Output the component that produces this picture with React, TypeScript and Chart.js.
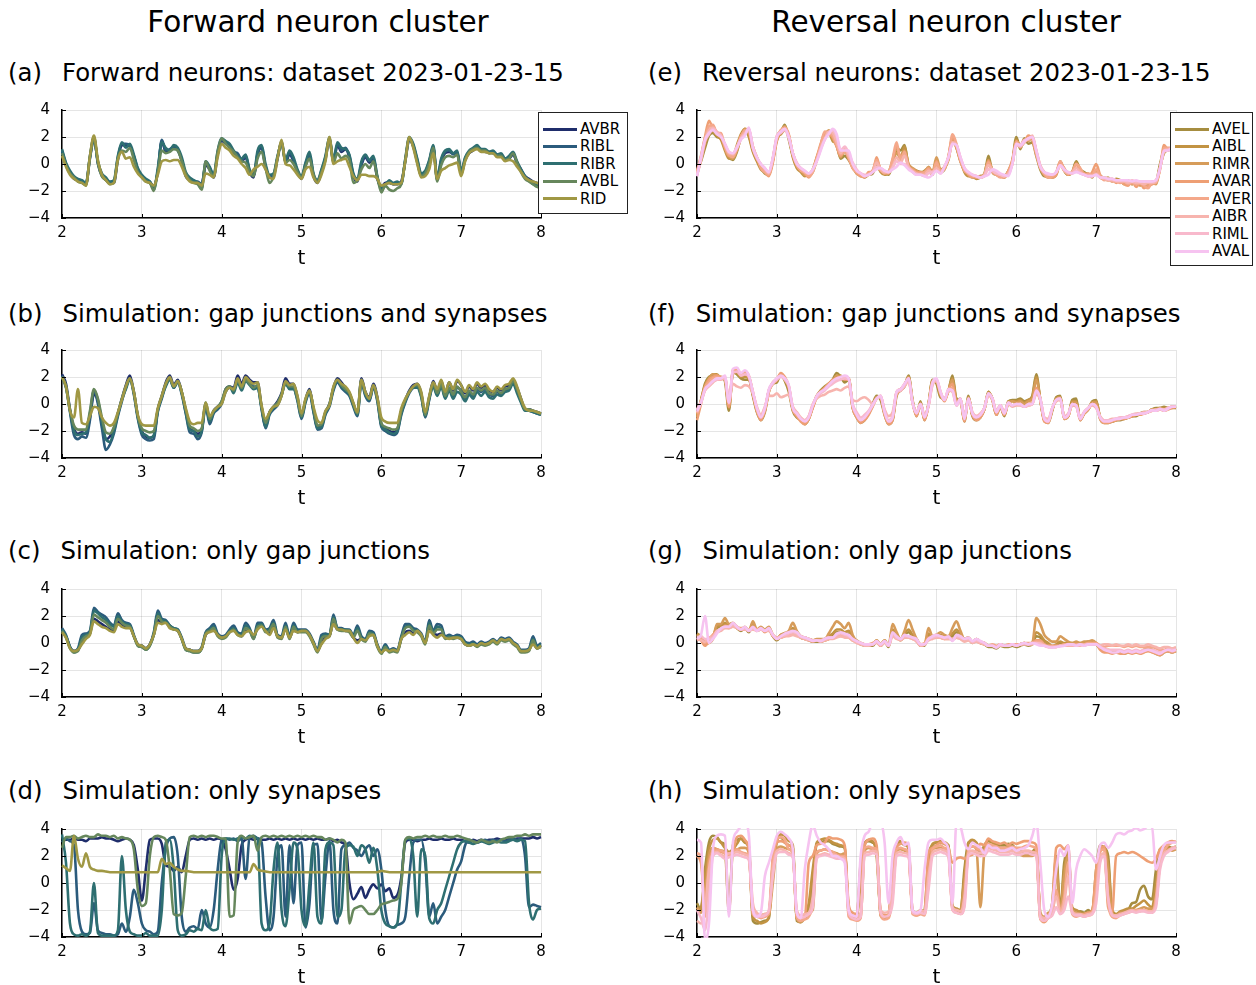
import React, { useEffect, useRef } from "react";
import { Chart, registerables } from "chart.js";
Chart.register(...registerables);

const FONT = "'DejaVu Sans', 'Liberation Sans', sans-serif";

// sample times 2.00, 2.05, ... 8.00
const T_START = 2;
const T_STEP = 0.05;
const X_TICKS = [2, 3, 4, 5, 6, 7, 8];
const Y_TICKS = [-4, -2, 0, 2, 4];

const FWD_NAMES = ["AVBR", "RIBL", "RIBR", "AVBL", "RID"];
const FWD_COLORS = ["#1f2d6b", "#2b5b7c", "#2e6f71", "#66875c", "#a09844"];
const REV_NAMES = ["AVEL", "AIBL", "RIMR", "AVAR", "AVER", "AIBR", "RIML", "AVAL"];
const REV_COLORS = ["#a68d40", "#c29343", "#d69c5a", "#ee9f74", "#f4a88a", "#f7b4ae", "#f8b9cc", "#f6c3f0"];

// ---------- (a) Forward neurons: dataset ----------
const A_AVBR = [
  0.9, -0.1, -0.7, -1.1, -1.2, -1.4, -1.5, 0.4, 1.9, 0.1, -0.8, -1.2, -1.4, -1.4, 0.3, 1.4, 1.4, 1.3, 0.6, -0.4,
  -0.9, -1.2, -1.4, -1.6, -0.6, 1.7, 0.9, 1.0, 1.2, 1.1, 0.2, -0.9, -1.2, -1.3, -1.4, -1.5, -0.1, -0.4, -1.0, 0.7,
  1.7, 1.5, 1.3, 0.8, 0.7, 0.2, 0.5, -0.6, -1.0, 0.7, 1.2, -0.3, -1.0, -0.9, 0.4, 1.6, 0.1, 0.7, 0.2, -0.6,
  -1.1, -0.1, 0.6, -0.9, -1.4, -0.6, 0.4, 1.8, 0.1, 1.4, 0.9, 1.1, 0.5, -0.9, -1.3, -0.1, 0.5, 0.1, 0.4, -1.1,
  -1.7, -1.4, -1.4, -1.5, -1.5, -1.3, 0.2, 1.8, 1.3, 0.2, -0.9, -0.7, 0.1, 1.2, -1.1, 0.2, 0.8, 0.9, 0.8, 0.8,
  -0.7, 0.3, 0.8, 1.0, 1.2, 1.1, 0.9, 0.9, 0.8, 0.7, 0.6, 0.4, 0.4, 0.7, 0.1, -0.4, -0.9, -1.1, -1.3, -1.4, -1.6,
];
const A_RIBL = [
  1.0, 0.0, -0.6, -1.0, -1.2, -1.3, -1.5, 0.6, 2.0, 0.0, -0.9, -1.1, -1.4, -1.3, 0.5, 1.5, 1.5, 1.4, 0.5, -0.5,
  -0.9, -1.2, -1.3, -1.7, -0.5, 1.8, 1.0, 1.1, 1.3, 1.0, 0.3, -0.8, -1.1, -1.3, -1.3, -1.5, 0.0, -0.3, -0.9, 0.8,
  1.8, 1.6, 1.4, 0.9, 0.8, 0.3, 0.6, -0.5, -0.9, 0.8, 1.3, -0.2, -0.9, -0.8, 0.5, 1.7, 0.2, 0.8, 0.3, -0.5,
  -1.0, 0.0, 0.7, -0.8, -1.3, -0.5, 0.5, 1.9, 0.2, 1.5, 1.0, 1.2, 0.6, -0.8, -1.2, 0.0, 0.6, 0.2, 0.5, -1.0,
  -1.8, -1.5, -1.3, -1.5, -1.4, -1.4, 0.3, 1.9, 1.4, 0.3, -0.8, -0.6, 0.2, 1.3, -1.2, 0.3, 0.9, 1.0, 0.7, 0.9,
  -0.6, 0.4, 0.9, 1.1, 1.3, 1.0, 1.0, 0.8, 0.9, 0.6, 0.7, 0.3, 0.5, 0.8, 0.0, -0.5, -1.0, -1.2, -1.4, -1.5, -1.7,
];
const A_RIBR = [
  1.1, 0.1, -0.5, -0.9, -1.1, -1.2, -1.4, 0.5, 1.8, 0.2, -0.7, -1.0, -1.3, -1.2, 0.6, 1.6, 1.2, 1.5, 0.7, -0.3,
  -0.8, -1.1, -1.3, -1.9, -0.3, 1.6, 1.2, 1.0, 1.4, 1.2, 0.5, -0.6, -1.0, -1.2, -1.4, -1.8, 0.2, -0.2, -0.8, 1.0,
  1.9, 1.7, 1.5, 1.0, 0.6, 0.4, 0.7, -0.4, -0.8, 1.0, 1.4, 0.0, -0.8, -0.7, 0.6, 1.5, 0.3, 1.0, 0.5, -0.4,
  -0.9, 0.1, 0.9, -0.7, -1.2, -0.4, 0.6, 2.0, 0.3, 1.6, 1.2, 1.1, 0.7, -0.7, -1.1, 0.2, 0.7, 0.3, 0.6, -0.9,
  -1.9, -1.6, -1.2, -1.4, -1.3, -1.5, 0.4, 2.0, 1.5, 0.4, -0.7, -0.5, 0.3, 1.4, -1.0, 0.4, 1.0, 1.1, 0.8, 1.0,
  -0.5, 0.5, 1.0, 1.2, 1.4, 1.1, 1.1, 0.9, 1.0, 0.7, 0.8, 0.4, 0.6, 0.9, 0.2, -0.4, -0.9, -1.2, -1.5, -1.6, -1.8,
];
const A_AVBL = [
  0.8, -0.1, -0.7, -1.0, -1.3, -1.4, -1.6, 0.5, 2.0, 0.1, -0.9, -1.2, -1.5, -1.4, 0.4, 1.0, 0.9, 1.2, 0.3, -0.6,
  -1.0, -1.3, -1.4, -2.0, -0.6, 1.0, 0.8, 0.9, 1.1, 1.0, 0.2, -0.7, -1.2, -1.4, -1.5, -1.9, 0.2, -0.5, -0.9, 0.9,
  1.9, 1.5, 1.2, 0.9, 0.5, 0.2, 0.1, -0.6, -0.9, 0.4, 0.9, -0.3, -1.4, -0.9, 0.5, 1.6, 0.1, 0.3, 0.0, -0.6,
  -1.0, -0.2, 0.4, -0.8, -1.3, -0.6, 0.3, 1.9, 0.1, 0.8, 0.4, 0.6, 0.3, -1.4, -1.2, -0.4, 0.0, -0.3, 0.2, -1.0,
  -2.1, -1.6, -1.9, -2.0, -1.8, -1.5, 0.2, 1.9, 1.3, 0.1, -0.9, -0.7, 0.0, 1.2, -1.3, -0.1, 0.5, 0.6, 0.5, 0.7,
  -0.8, 0.3, 0.9, 1.1, 1.2, 1.0, 1.0, 0.8, 0.8, 0.6, 0.6, 0.3, 0.4, 0.8, 0.1, -0.6, -1.1, -1.3, -1.5, -1.7, -1.8,
];
const A_RID = [
  0.6, -0.2, -0.8, -1.1, -1.3, -1.4, -1.6, 0.6, 2.1, 0.3, -0.8, -1.2, -1.5, -1.4, 0.3, 0.9, 0.4, 0.5, -0.2, -0.7,
  -1.0, -1.3, -1.4, -1.6, -0.8, 0.2, 0.3, 0.2, 0.3, 0.3, -0.2, -0.9, -1.3, -1.4, -1.4, -1.6, -0.7, -0.8, -1.0, 0.5,
  1.5, 1.2, 1.0, 0.6, 0.4, 0.0, -0.3, -0.8, -0.4, -0.2, 0.0, -0.4, -1.0, -1.1, 0.4, 1.8, 0.0, -0.1, -0.4, -0.8,
  -1.1, -0.4, -0.2, -1.0, -1.4, -0.8, 0.2, 2.0, 0.0, 0.2, 0.3, 0.4, -0.2, -0.9, -1.2, -0.8, -0.8, -0.9, -0.9, -1.1,
  -1.6, -1.5, -1.4, -1.5, -1.5, -1.4, 0.2, 2.0, 1.2, 0.0, -1.0, -0.9, -0.4, 0.8, -1.1, -0.5, -0.3, -0.1, 0.0, 0.1,
  -0.9, 0.2, 0.8, 1.0, 1.1, 0.9, 0.9, 0.8, 0.8, 0.5, 0.5, 0.2, 0.3, 0.2, -0.2, -0.6, -1.0, -1.2, -1.3, -1.4, -1.5,
];

// ---------- (b) Simulation: gap junctions and synapses (forward) ----------
const B_AVBR = [
  2.2, 1.5, -0.4, -1.8, -2.2, -2.1, -2.2, -1.0, 0.7, 0.2, -1.5, -2.6, -2.4, -1.8, -0.7, 0.4, 1.4, 2.1, 0.9, -0.9,
  -2.0, -2.4, -2.5, -2.4, -0.4, 0.6, 1.6, 2.1, 1.4, 1.8, 0.9, -0.5, -1.8, -2.0, -2.2, -1.9, 0.0, -1.2, -0.5, -0.2,
  0.1, 1.1, 1.3, 1.2, 2.1, 1.5, 2.1, 1.8, 1.6, 1.6, -0.2, -1.6, -0.6, -0.2, 0.2, 0.8, 1.9, 1.5, 1.5, 0.5,
  -0.9, 0.3, 1.1, -0.4, -1.7, -1.6, -0.6, 0.0, 1.2, 1.9, 1.6, 1.2, 0.8, 0.0, -0.7, 1.9, 0.9, 0.5, 1.5, 0.5,
  -1.5, -1.8, -2.0, -2.1, -1.9, -0.5, 0.3, 1.0, 1.4, 1.5, 0.8, -0.8, 0.5, 1.7, 1.0, 1.7, 0.8, 1.6, 1.0, 1.7,
  1.4, 0.8, 1.3, 1.0, 1.5, 1.2, 1.4, 1.0, 0.9, 1.2, 1.0, 1.3, 1.4, 1.8, 1.2, 0.4, -0.4, -0.4, -0.5, -0.6, -0.7,
];
const B_RIBL = [
  2.1, 1.3, -0.6, -2.3, -2.6, -2.4, -2.5, -1.2, 1.0, 0.0, -1.8, -3.4, -3.0, -2.2, -0.9, 0.2, 1.2, 1.9, 0.7, -1.1,
  -2.3, -2.6, -2.7, -2.6, -0.6, 0.4, 1.4, 1.9, 1.2, 1.7, 0.7, -0.7, -2.1, -2.2, -2.6, -2.1, -0.2, -1.5, -0.7, -0.4,
  0.0, 0.9, 1.2, 1.0, 1.8, 1.2, 1.9, 1.6, 1.3, 1.3, -0.4, -1.8, -0.8, -0.4, -0.1, 0.6, 1.6, 1.2, 1.2, 0.2,
  -1.1, 0.1, 0.8, -0.6, -1.9, -1.8, -0.8, -0.2, 1.0, 1.6, 1.2, 0.9, 0.6, -0.2, -0.9, 1.6, 0.6, 0.2, 1.2, 0.2,
  -1.7, -2.0, -2.2, -2.3, -2.1, -0.8, 0.1, 0.8, 1.2, 1.3, 0.6, -1.0, 0.3, 1.4, 0.7, 1.4, 0.5, 1.2, 0.6, 1.2,
  1.0, 0.4, 0.9, 0.6, 1.1, 0.9, 1.1, 0.7, 0.6, 0.9, 0.7, 1.0, 1.2, 1.6, 1.0, 0.2, -0.4, -0.5, -0.6, -0.7, -0.8,
];
const B_RIBR = [
  2.0, 1.2, -0.5, -2.0, -2.3, -2.2, -2.1, -0.7, 1.0, 0.3, -1.3, -2.6, -2.8, -2.0, -0.8, 0.3, 1.1, 1.8, 0.8, -1.0,
  -2.1, -2.3, -2.5, -2.3, -0.5, 0.5, 1.3, 1.8, 1.2, 1.6, 0.8, -0.6, -1.9, -2.0, -2.4, -2.0, -0.1, -1.3, -0.6, -0.3,
  0.2, 1.0, 1.3, 0.8, 1.6, 1.0, 1.7, 1.4, 1.1, 1.2, -0.3, -1.7, -0.7, -0.3, 0.0, 0.7, 1.5, 1.1, 1.1, 0.3,
  -1.0, 0.2, 0.9, -0.5, -1.8, -1.7, -0.7, -0.1, 1.1, 1.7, 1.3, 1.0, 0.7, -0.1, -0.8, 1.7, 0.7, 0.3, 1.3, 0.3,
  -1.6, -1.9, -2.1, -2.2, -2.0, -0.7, 0.2, 0.9, 1.2, 1.2, 0.5, -0.9, 0.4, 1.3, 0.6, 1.3, 0.4, 1.0, 0.4, 0.9,
  0.7, 0.2, 0.7, 0.4, 0.9, 0.6, 0.9, 0.5, 0.4, 0.7, 0.6, 0.9, 1.0, 1.5, 0.8, 0.1, -0.5, -0.5, -0.6, -0.7, -0.8,
];
const B_AVBL = [
  2.0, 1.3, -0.4, -1.6, -1.9, -1.9, -1.9, -0.5, 1.1, 0.4, -1.0, -2.1, -2.2, -1.7, -0.7, 0.4, 1.3, 1.9, 0.9, -0.9,
  -1.8, -2.0, -2.1, -2.0, -0.4, 0.6, 1.5, 1.9, 1.3, 1.7, 0.9, -0.4, -1.6, -1.8, -2.0, -1.8, 0.1, -1.1, -0.5, -0.2,
  0.2, 1.1, 1.3, 1.0, 1.8, 1.2, 1.8, 1.5, 1.2, 1.4, -0.2, -1.4, -0.6, -0.2, 0.1, 0.7, 1.6, 1.3, 1.3, 0.4,
  -0.9, 0.3, 1.0, -0.3, -1.6, -1.5, -0.6, 0.0, 1.2, 1.8, 1.4, 1.1, 0.8, 0.0, -0.7, 1.8, 0.8, 0.4, 1.4, 0.4,
  -1.4, -1.7, -1.8, -1.9, -1.8, -0.5, 0.3, 0.9, 1.3, 1.4, 0.7, -0.8, 0.5, 1.5, 0.8, 1.5, 0.6, 1.2, 0.7, 1.3,
  0.9, 0.5, 1.0, 0.7, 1.2, 1.0, 1.2, 0.8, 0.7, 1.0, 0.8, 1.1, 1.2, 1.7, 1.1, 0.3, -0.4, -0.4, -0.5, -0.6, -0.7,
];
const B_RID = [
  2.0, 1.3, -0.5, -1.0, 1.1, -1.4, -1.5, -0.9, -0.2, -0.3, -1.0, -1.4, -1.6, -1.4, -0.6, 0.3, 1.3, 1.9, 0.9, -0.8,
  -1.5, -1.6, -1.6, -1.6, -0.3, 0.6, 1.5, 2.0, 1.3, 1.7, 0.9, -0.3, -1.3, -1.5, -1.4, -1.4, 0.1, -0.9, -0.5, -0.2,
  0.0, 0.9, 1.2, 1.1, 1.9, 1.3, 2.0, 1.7, 1.5, 1.6, -0.1, -1.1, -0.6, -0.2, -0.1, 0.6, 1.7, 1.4, 1.5, 0.6,
  -0.7, 0.4, 1.0, -0.2, -1.2, -1.4, -0.5, -0.1, 1.3, 1.8, 1.5, 1.3, 0.9, 0.1, -0.6, 1.8, 0.9, 0.4, 1.4, 0.5,
  -1.0, -1.3, -1.4, -1.4, -1.4, -0.3, 0.4, 0.9, 1.3, 1.5, 0.9, -0.6, 0.6, 1.6, 1.1, 1.8, 0.9, 1.6, 1.1, 1.8,
  1.4, 0.9, 1.4, 1.1, 1.6, 1.3, 1.5, 1.1, 0.9, 1.3, 1.1, 1.4, 1.5, 1.9, 1.3, 0.4, -0.3, -0.5, -0.5, -0.6, -0.7,
];

// ---------- (c) Simulation: only gap junctions (forward) ----------
const C_AVBR = [
  0.9, 0.5, -0.3, -0.6, -0.5, 0.0, 0.4, 0.7, 1.8, 1.6, 1.4, 1.2, 1.0, 0.9, 1.6, 1.3, 1.2, 1.2, 0.5, -0.1,
  -0.2, -0.4, -0.1, 0.6, 1.7, 1.5, 1.5, 1.2, 1.0, 0.9, 0.3, -0.4, -0.5, -0.6, -0.6, -0.4, 0.6, 0.9, 1.0, 0.6,
  0.4, 0.5, 0.8, 1.0, 0.7, 0.5, 0.9, 0.9, 0.5, 1.1, 1.3, 0.9, 0.7, 1.2, 0.5, 0.4, 1.1, 0.4, 1.0, 0.8,
  0.9, 0.9, 0.6, 0.0, -0.6, 0.0, 0.4, 0.5, 1.5, 1.0, 1.0, 0.9, 0.9, 0.4, 0.2, 0.3, 0.2, 0.6, 0.6, -0.2,
  -0.7, -0.4, -0.6, -0.5, -0.6, 0.3, 0.8, 0.9, 0.7, 0.9, 0.6, 0.0, 1.1, 0.7, 0.6, 0.7, 0.4, 0.4, 0.4, 0.4,
  0.3, -0.1, -0.2, -0.1, -0.2, 0.0, -0.1, 0.0, 0.2, 0.0, 0.3, 0.2, 0.3, 0.0, -0.2, -0.6, -0.6, -0.5, 0.0, -0.4, -0.2,
];
const C_RIBL = [
  1.1, 0.6, -0.3, -0.6, -0.4, 0.6, 0.7, 0.9, 2.6, 2.3, 2.1, 1.9, 1.5, 1.3, 2.2, 1.7, 1.5, 1.4, 0.6, -0.1,
  -0.2, -0.4, -0.1, 0.8, 2.4, 1.8, 1.7, 1.3, 1.1, 1.0, 0.4, -0.4, -0.5, -0.6, -0.6, -0.3, 0.8, 1.1, 1.4, 0.7,
  0.5, 0.6, 1.0, 1.3, 0.8, 0.7, 1.5, 1.1, 0.4, 1.5, 1.5, 1.0, 1.1, 1.7, 0.6, 0.5, 1.5, 0.5, 1.5, 1.0,
  1.0, 1.0, 0.7, 0.1, -0.5, 0.6, 0.7, 0.6, 2.1, 1.1, 1.1, 1.0, 1.0, 0.6, 1.3, 0.5, 0.3, 0.9, 0.8, -0.1,
  -0.6, -0.1, -0.5, -0.4, -0.5, 0.5, 1.4, 1.4, 1.1, 1.0, 0.7, 0.1, 1.7, 0.9, 1.4, 1.3, 0.5, 0.6, 0.5, 0.6,
  0.5, 0.1, 0.0, 0.1, -0.1, 0.1, 0.0, 0.1, 0.3, 0.1, 0.4, 0.3, 0.4, 0.1, -0.1, -0.5, -0.5, -0.4, 0.5, -0.2, 0.0,
];
const C_RIBR = [
  1.0, 0.5, -0.3, -0.7, -0.5, 0.4, 0.6, 0.8, 2.4, 2.2, 1.9, 1.7, 1.4, 1.2, 2.0, 1.6, 1.4, 1.3, 0.5, -0.2,
  -0.3, -0.5, -0.2, 0.7, 2.2, 1.7, 1.6, 1.3, 1.1, 1.0, 0.3, -0.5, -0.6, -0.7, -0.7, -0.4, 0.7, 1.0, 1.2, 0.6,
  0.4, 0.5, 0.9, 1.1, 0.7, 0.6, 1.3, 1.0, 0.3, 1.3, 1.4, 0.9, 1.0, 1.5, 0.5, 0.4, 1.3, 0.4, 1.3, 0.9,
  0.9, 0.9, 0.6, 0.0, -0.6, 0.4, 0.6, 0.6, 1.9, 1.1, 1.0, 1.0, 0.9, 0.5, 1.1, 0.4, 0.2, 0.8, 0.7, -0.2,
  -0.7, -0.2, -0.6, -0.5, -0.6, 0.4, 1.2, 1.3, 1.0, 0.9, 0.6, 0.0, 1.5, 0.8, 1.2, 1.1, 0.4, 0.5, 0.4, 0.5,
  0.4, 0.0, -0.1, 0.0, -0.2, 0.0, -0.1, 0.0, 0.2, 0.0, 0.3, 0.2, 0.3, 0.0, -0.2, -0.6, -0.6, -0.5, 0.3, -0.3, -0.1,
];
const C_AVBL = [
  0.9, 0.4, -0.4, -0.7, -0.6, 0.2, 0.5, 0.7, 2.1, 1.9, 1.7, 1.5, 1.2, 1.0, 1.8, 1.5, 1.3, 1.2, 0.5, -0.2,
  -0.3, -0.5, -0.2, 0.6, 2.0, 1.6, 1.5, 1.2, 1.0, 0.9, 0.3, -0.5, -0.6, -0.7, -0.7, -0.4, 0.7, 0.9, 1.1, 0.5,
  0.3, 0.4, 0.8, 1.0, 0.6, 0.5, 1.1, 0.9, 0.3, 1.2, 1.3, 0.8, 0.9, 1.4, 0.4, 0.3, 1.2, 0.3, 1.2, 0.8,
  0.8, 0.8, 0.5, -0.1, -0.7, 0.3, 0.5, 0.5, 1.8, 1.0, 0.9, 0.9, 0.8, 0.4, 0.9, 0.3, 0.1, 0.7, 0.6, -0.3,
  -0.8, -0.3, -0.7, -0.6, -0.7, 0.3, 1.1, 1.2, 0.9, 0.8, 0.5, -0.1, 1.3, 0.7, 1.0, 1.0, 0.3, 0.4, 0.3, 0.4,
  0.3, -0.1, -0.2, -0.1, -0.3, -0.1, -0.2, -0.1, 0.1, -0.1, 0.2, 0.1, 0.2, -0.1, -0.3, -0.7, -0.7, -0.6, 0.2, -0.4, -0.3,
];
const C_RID = [
  0.8, 0.4, -0.4, -0.6, -0.5, -0.1, 0.3, 0.6, 1.6, 1.4, 1.2, 1.1, 0.9, 0.8, 1.4, 1.2, 1.1, 1.1, 0.5, -0.1,
  -0.2, -0.4, -0.1, 0.6, 1.5, 1.4, 1.5, 1.1, 1.0, 0.9, 0.3, -0.4, -0.5, -0.6, -0.6, -0.4, 0.6, 0.8, 0.9, 0.6,
  0.4, 0.5, 0.8, 0.9, 0.6, 0.5, 0.8, 0.9, 0.6, 1.0, 1.2, 0.9, 0.6, 1.1, 0.5, 0.4, 1.0, 0.4, 0.9, 0.8,
  0.9, 0.9, 0.6, 0.0, -0.6, -0.1, 0.3, 0.5, 1.4, 1.0, 1.0, 0.9, 0.9, 0.4, 0.0, 0.3, 0.2, 0.5, 0.6, -0.2,
  -0.7, -0.5, -0.6, -0.5, -0.6, 0.3, 0.6, 0.8, 0.6, 0.9, 0.6, 0.0, 0.9, 0.6, 0.4, 0.6, 0.4, 0.3, 0.4, 0.4,
  0.3, -0.1, -0.2, -0.1, -0.2, 0.0, -0.1, 0.0, 0.2, 0.0, 0.3, 0.2, 0.3, 0.0, -0.2, -0.6, -0.6, -0.5, -0.1, -0.4, -0.2,
];

// ---------- (d) Simulation: only synapses (forward) ----------
const D_AVBR = [
  3.2, 3.2, 3.2, 3.3, 3.2, 3.2, 3.1, 3.3, 3.3, 3.3, 3.4, 3.3, 3.3, 3.2, 3.1, 3.2, 3.3, 3.2, 2.8, 1.0,
  -1.3, 1.0, 3.2, 3.3, 3.3, 2.9, 1.3, 1.2, 0.9, 1.2, 0.8, 2.0, 3.2, 3.3, 3.2, 3.3, 3.2, 3.3, 3.2, 3.3,
  3.2, 2.5, 1.0, -0.5, 0.3, 2.8, 3.2, 3.3, 3.2, 3.3, 3.2, 3.2, 3.3, 3.2, 3.3, 3.2, 3.3, 3.2, 3.3, 3.2,
  3.3, 3.2, 3.3, 3.2, 3.3, 3.2, 3.2, 3.3, 3.1, 3.2, 3.0, 2.8, 0.0, -1.2, -0.8, -0.3, -1.1, -0.5, -0.1, -0.4,
  -0.1, -0.6, -0.4, -1.1, -0.9, 0.4, 3.0, 3.2, 3.2, 3.1, 3.2, 3.2, 3.3, 3.2, 3.2, 3.3, 3.2, 3.2, 3.3, 3.2,
  3.2, 3.1, 3.0, 3.2, 3.1, 3.2, 3.1, 3.2, 3.2, 3.3, 3.2, 3.2, 3.3, 3.2, 3.3, 3.3, 3.3, 3.3, 3.4, 3.3, 3.4,
];
const D_RIBL = [
  3.0, 3.3, 3.1, 2.8, -2.0, -3.6, -3.8, -3.7, -1.5, -3.5, -3.7, -3.8, -3.8, -3.9, -3.8, -3.0, -3.6, -2.5, -0.5, -1.5,
  -3.0, -3.5, -3.6, -3.8, -3.6, 0.0, 2.5, 3.3, 3.4, 2.0, -2.5, -3.6, -3.3, -3.2, -3.4, -2.0, -3.0, -3.3, -2.0, 1.0,
  3.2, 3.3, 3.2, 3.3, 3.1, 3.3, 0.3, 3.4, 3.5, 3.3, 3.0, -1.0, -3.5, -2.5, 2.0, 2.8, -2.5, 2.8, -1.5, 2.8,
  3.0, -3.3, -1.5, 2.8, 2.9, -2.8, 0.5, 3.1, -2.0, -3.0, 2.5, 2.8, 3.0, 2.6, 2.4, 2.0, 2.5, 2.8, 2.0, 2.5,
  1.0, -2.0, -3.2, -3.3, -3.1, -3.0, -2.5, 0.5, 3.0, 3.2, 3.2, 1.5, -2.5, -1.5, -3.0, -2.5, -2.0, -1.0, 0.0, 1.0,
  1.6, 2.8, 3.2, 3.1, 3.0, 3.1, 3.2, 3.1, 3.2, 3.1, 3.2, 3.1, 3.2, 3.3, 3.2, 3.3, 2.0, -1.8, -1.6, -1.7, -1.8,
];
const D_RIBR = [
  3.6, 1.5, -3.0, -3.8, -3.9, -3.8, -3.9, -3.6, 0.0, -3.7, -3.9, -3.9, -3.9, -3.9, -3.5, 2.0, -2.0, -3.6, -3.8, -3.9,
  -3.9, -3.7, -3.9, -3.9, -3.9, -2.0, 3.0, 3.2, 1.0, -3.5, -3.9, -3.8, -3.5, -3.6, -3.4, -3.5, -2.0, -3.3, -3.5, -3.4,
  2.0, 3.3, 3.3, 3.2, 3.3, 3.4, 3.3, 3.5, 3.4, 3.3, -3.0, -3.5, -3.0, 1.0, 3.0, -2.0, -3.2, -0.5, 3.0, 2.5,
  -2.0, -3.2, 0.0, 3.0, -2.5, -3.0, 2.5, 3.0, 2.8, -2.5, -2.0, 2.5, 2.8, 2.7, 2.0, 2.8, 2.5, 1.5, 2.6, 1.0,
  -2.0, -3.0, -3.2, -3.3, -3.0, 0.0, 3.2, 3.3, 2.0, -2.5, 2.5, 2.0, -2.6, -3.0, -2.0, -1.5, -0.5, 0.5, 1.5, 2.5,
  3.0, 3.1, 3.0, 2.9, 3.0, 3.1, 3.0, 2.9, 3.0, 3.1, 3.0, 3.0, 3.1, 3.2, 3.1, 3.2, 3.1, -1.5, -2.7, -2.0, -1.9,
];
const D_AVBL = [
  2.6, 3.4, 3.4, 3.5, 3.3, 3.4, 3.5, 3.4, 3.4, 3.6, 3.5, 3.5, 3.4, 3.5, 3.3, 3.4, 3.3, 3.2, 2.5, -0.5,
  -1.7, -1.5, 2.0, 3.4, 3.5, 3.4, 3.2, 1.0, -2.3, -2.4, -2.2, 0.5, 3.4, 3.5, 3.4, 3.5, 3.4, 3.5, 3.5, 3.4,
  3.3, 3.3, -2.5, -2.4, 3.0, 3.5, 3.3, 3.4, 3.5, 2.4, 3.4, 3.5, 3.4, 3.5, 3.4, 3.5, 3.4, 3.5, 3.4, 3.5,
  3.4, 3.5, 3.4, 3.5, 3.4, 3.4, 3.2, 3.3, 3.2, 3.0, 3.2, 3.0, -3.0, -2.0, -1.8, -1.7, -2.0, -2.3, -2.3, -2.0,
  -1.6, -1.5, -1.4, -1.3, -1.2, 0.0, 3.2, 3.4, 3.3, 3.4, 3.4, 3.5, 3.4, 3.5, 3.4, 3.4, 3.5, 3.4, 3.4, 3.5,
  3.4, 3.3, 3.2, 3.1, 3.0, 3.2, 3.1, 3.0, 3.1, 3.0, 3.2, 3.3, 3.4, 3.4, 3.5, 3.5, 3.6, 3.5, 3.6, 3.6, 3.6,
];
const D_RID = [
  1.3, 1.1, 0.9, 3.5, 1.8, 1.2, 2.2, 1.2, 1.0, 0.9, 0.9, 0.85, 0.8, 0.8, 0.8, 0.8, 0.8, 0.8, 0.8, 0.8,
  0.8, 0.8, 0.8, 0.8, 0.8, 1.8, 1.4, 1.5, 1.2, 1.0, 0.9, 0.9, 0.85, 0.8, 0.8, 0.8, 0.8, 0.8, 0.8, 0.8,
  0.8, 0.8, 0.8, 0.8, 0.8, 0.8, 0.8, 0.8, 1.4, 1.0, 0.9, 0.85, 0.8, 0.8, 0.8, 0.8, 0.8, 0.8, 0.8, 0.8,
  0.8, 0.8, 0.8, 0.8, 0.8, 0.8, 0.8, 0.8, 0.8, 0.8, 0.8, 0.8, 0.8, 0.8, 0.8, 0.8, 0.8, 0.8, 0.8, 0.8,
  0.9, 0.85, 0.8, 0.8, 0.8, 0.8, 0.8, 0.8, 0.8, 0.8, 0.8, 0.8, 0.8, 0.8, 0.8, 0.8, 0.8, 0.8, 0.8, 0.8,
  0.8, 0.8, 0.8, 0.8, 0.8, 0.8, 0.8, 0.8, 0.8, 0.8, 0.8, 0.8, 0.8, 0.8, 0.8, 0.8, 0.8, 0.8, 0.8, 0.8, 0.8,
];

// ---------- (e) Reversal neurons: dataset ----------
const E_AVEL = [
  -0.6, 0.2, 1.2, 2.1, 2.3, 2.0, 1.9, 1.2, 0.5, 0.3, 0.9, 2.0, 2.4, 2.1, 1.0, 0.3, -0.3, -0.7, -0.8, 0.3,
  1.8, 2.3, 2.9, 1.8, 0.6, -0.2, -0.5, -0.7, -0.9, -0.5, 0.4, 1.2, 2.0, 2.4, 2.0, 1.4, 0.4, 0.6, 0.3, -0.2,
  -0.7, -0.8, -1.0, -0.8, -0.7, -0.1, -0.5, -0.7, -0.8, 0.0, 1.2, 1.0, 1.4, -0.2, -0.4, -0.5, -0.6, -0.6, -0.4, -0.7,
  0.3, -0.6, -0.4, 0.5, 1.9, 1.2, 0.2, -0.5, -0.8, -1.0, -1.0, -0.9, -0.8, 0.6, -0.6, -0.8, -0.9, -0.9, -0.5, 0.2,
  2.0, 1.1, 1.9, 1.5, 1.6, 0.6, -0.4, -0.9, -0.9, -1.0, -0.8, 0.2, -0.5, -0.8, -0.6, 0.2, -0.4, -0.6, -0.8, -0.9,
  -0.6, -0.9, -1.0, -1.1, -1.2, -1.2, -1.3, -1.4, -1.2, -1.5, -1.3, -1.4, -1.6, -1.5, -1.4, -1.3, 0.0, 1.0, 1.1, 1.2, 1.3,
];
const E_AIBL = [
  -0.7, 0.4, 1.6, 2.6, 2.4, 2.1, 1.8, 1.0, 0.4, 0.5, 1.4, 2.2, 2.6, 2.0, 0.9, 0.2, -0.4, -0.6, -0.8, 0.4,
  1.9, 2.2, 2.5, 2.1, 0.5, -0.3, -0.6, -0.9, -0.8, -0.6, 0.3, 1.4, 2.2, 2.3, 1.7, 1.5, 0.6, 0.9, 0.5, -0.3,
  -0.6, -0.9, -0.9, -0.7, -0.6, 0.0, -0.6, -0.8, -0.6, 0.2, 0.9, 0.4, 1.3, -0.1, -0.5, -0.6, -0.7, -0.5, -0.3, -0.8,
  0.1, -0.5, -0.3, 0.3, 1.7, 1.3, 0.3, -0.6, -0.9, -0.9, -1.1, -1.0, -0.7, 0.3, -0.5, -0.7, -0.9, -1.0, -0.6, 0.1,
  1.8, 1.3, 1.6, 1.8, 1.9, 0.8, -0.3, -0.8, -1.0, -0.9, -0.7, 0.0, -0.4, -0.7, -0.7, 0.1, -0.5, -0.7, -0.7, -1.0,
  -0.5, -1.0, -1.1, -1.0, -1.3, -1.1, -1.2, -1.5, -1.3, -1.4, -1.4, -1.5, -1.5, -1.6, -1.3, -1.4, -0.2, 0.8, 1.0, 1.1, 1.2,
];
const E_RIMR = [
  -0.8, 0.3, 1.5, 2.4, 2.8, 2.2, 2.0, 1.4, 0.6, 0.4, 1.0, 1.9, 2.6, 2.3, 1.1, 0.4, -0.2, -0.5, -0.7, 0.2,
  1.7, 2.4, 2.8, 2.0, 0.7, -0.1, -0.4, -0.8, -0.8, -0.4, 0.5, 1.3, 2.1, 2.5, 1.9, 1.3, 0.5, 1.1, 0.4, -0.1,
  -0.6, -0.8, -0.9, -0.7, -0.5, 0.2, -0.4, -0.6, -0.7, 0.1, 0.8, 0.6, 1.0, 0.0, -0.3, -0.5, -0.7, -0.6, -0.2, -0.6,
  0.5, -0.4, -0.2, 0.4, 1.8, 1.2, 0.3, -0.4, -0.7, -0.9, -1.0, -0.9, -0.8, 0.3, -0.5, -0.7, -0.8, -0.9, -0.6, 0.0,
  1.6, 1.2, 1.8, 1.7, 2.0, 0.9, -0.2, -0.7, -0.9, -0.9, -0.7, 0.1, -0.5, -0.8, -0.6, 0.0, -0.4, -0.7, -0.8, -0.9,
  -0.6, -1.0, -1.1, -1.2, -1.2, -1.2, -1.3, -1.4, -1.3, -1.5, -1.3, -1.6, -1.5, -1.7, -1.4, -1.5, -0.3, 0.9, 1.1, 1.2, 1.3,
];
const E_AVAR = [
  -0.5, 0.6, 2.0, 3.2, 2.6, 2.3, 2.1, 1.2, 0.6, 0.6, 1.1, 2.1, 2.3, 2.5, 1.3, 0.5, -0.1, -0.6, -0.9, 0.1,
  1.9, 2.5, 2.6, 2.1, 0.8, 0.0, -0.4, -0.7, -1.0, -0.5, 0.5, 1.5, 2.3, 2.2, 2.0, 1.3, 0.6, 1.0, 0.4, -0.2,
  -0.7, -0.9, -1.0, -0.6, -0.6, 0.5, -0.5, -0.6, -0.7, 0.3, 1.3, 0.5, 0.8, -0.2, -0.4, -0.6, -0.6, -0.7, -0.3, -0.7,
  0.2, -0.5, -0.4, 0.6, 2.0, 1.3, 0.2, -0.4, -0.8, -1.0, -0.9, -1.0, -0.9, 0.2, -0.6, -0.8, -0.9, -1.0, -0.5, 0.3,
  1.7, 1.4, 1.6, 2.1, 1.8, 0.7, -0.2, -0.8, -1.0, -1.0, -0.8, 0.0, -0.3, -0.8, -0.6, 0.0, -0.5, -0.7, -0.9, -0.6,
  0.0, -0.8, -1.1, -1.2, -1.1, -1.4, -1.2, -1.5, -1.6, -1.3, -1.7, -1.4, -1.8, -1.6, -1.5, -1.3, -0.4, 1.4, 1.1, 1.2, 1.3,
];
const E_AVER = [
  -0.6, 0.5, 1.9, 2.8, 2.9, 2.3, 2.3, 1.3, 0.7, 0.5, 1.2, 2.0, 2.5, 2.4, 1.2, 0.5, -0.3, -0.6, -0.8, 0.3,
  1.9, 2.5, 2.7, 2.2, 0.7, -0.1, -0.5, -0.6, -0.9, -0.6, 0.3, 1.4, 2.4, 2.3, 2.1, 1.4, 0.7, 0.9, 0.5, -0.3,
  -0.6, -0.8, -0.9, -0.7, -0.5, 0.3, -0.4, -0.7, -0.6, 0.4, 1.6, 0.3, 0.9, -0.3, -0.5, -0.7, -0.7, -0.6, -0.4, -0.8,
  0.1, -0.6, -0.3, 0.5, 2.2, 1.5, 0.3, -0.5, -0.7, -0.9, -1.0, -1.0, -0.8, 0.1, -0.5, -0.8, -1.0, -0.9, -0.6, 0.1,
  1.6, 1.3, 1.7, 1.9, 2.0, 0.8, -0.3, -0.7, -1.0, -0.9, -0.6, 0.2, -0.4, -0.7, -0.7, 0.0, -0.3, -0.8, -0.7, -0.8,
  -0.4, -0.9, -1.2, -1.1, -1.3, -1.3, -1.4, -1.3, -1.5, -1.4, -1.5, -1.4, -1.6, -1.8, -1.4, -1.4, -0.3, 1.2, 1.2, 1.2, 1.3,
];
const E_AIBR = [
  -0.8, 0.3, 1.7, 2.5, 2.7, 2.4, 2.1, 1.4, 0.8, 0.7, 1.2, 1.9, 2.3, 2.6, 1.2, 0.4, 0.0, -0.4, -0.7, 0.4,
  2.1, 2.4, 2.6, 2.0, 0.8, 0.0, -0.3, -0.6, -0.7, -0.5, 0.3, 1.2, 1.9, 2.4, 2.3, 1.6, 0.8, 1.2, 0.6, 0.0,
  -0.5, -0.7, -0.9, -0.8, -0.6, 0.1, -0.4, -0.6, -0.6, -0.2, 0.5, 0.1, 0.6, -0.2, -0.5, -0.7, -0.8, -0.8, -0.5, -0.6,
  -0.3, -0.6, -0.2, 0.4, 1.6, 1.4, 0.4, -0.3, -0.7, -0.8, -0.9, -1.0, -0.8, -0.1, -0.4, -0.6, -0.8, -0.9, -0.7, 0.0,
  1.5, 1.4, 1.8, 1.8, 2.1, 1.0, -0.1, -0.6, -0.8, -0.8, -0.6, -0.1, -0.5, -0.7, -0.6, -0.3, -0.6, -0.8, -0.9, -0.9,
  -0.7, -1.0, -1.1, -1.2, -1.2, -1.3, -1.3, -1.3, -1.4, -1.3, -1.4, -1.4, -1.5, -1.4, -1.4, -1.3, -0.3, 1.0, 1.1, 1.2, 1.3,
];
const E_RIML = [
  -0.9, 0.4, 1.7, 2.2, 2.6, 2.3, 2.1, 1.5, 0.9, 0.8, 1.3, 1.9, 2.2, 2.6, 1.3, 0.5, 0.0, -0.3, -0.6, 0.4,
  2.0, 2.3, 2.5, 1.9, 0.8, 0.1, -0.3, -0.5, -0.7, -0.4, 0.2, 1.1, 1.8, 2.3, 2.5, 2.0, 1.0, 1.3, 0.8, 0.1,
  -0.4, -0.7, -0.8, -0.8, -0.6, -0.2, -0.3, -0.5, -0.6, -0.3, 0.2, 0.0, 0.0, -0.3, -0.6, -0.8, -0.8, -0.9, -0.7, -0.6,
  -0.5, -0.7, -0.2, 0.5, 1.5, 1.4, 0.5, -0.3, -0.6, -0.8, -0.9, -1.0, -0.9, -0.4, -0.5, -0.7, -0.8, -0.9, -0.8, 0.0,
  1.4, 1.3, 1.6, 1.9, 2.0, 1.0, -0.1, -0.6, -0.8, -0.8, -0.6, -0.1, -0.4, -0.6, -0.7, -0.5, -0.7, -0.8, -0.9, -0.9,
  -0.8, -1.0, -1.0, -1.1, -1.1, -1.2, -1.2, -1.2, -1.3, -1.2, -1.3, -1.3, -1.3, -1.3, -1.3, -1.2, -0.3, 0.9, 1.0, 1.2, 1.3,
];
const E_AVAL = [
  -0.9, 0.5, 1.8, 2.3, 2.5, 2.2, 2.0, 1.5, 0.9, 0.8, 1.2, 1.8, 2.1, 2.7, 1.2, 0.5, 0.0, -0.3, -0.6, 0.5,
  2.0, 2.4, 2.6, 2.0, 0.8, 0.0, -0.3, -0.5, -0.7, -0.4, 0.2, 1.0, 1.8, 2.2, 2.6, 2.2, 1.0, 1.0, 1.0, 0.0,
  -0.5, -0.7, -0.9, -0.8, -0.6, -0.4, -0.3, -0.5, -0.6, -0.4, -0.2, 0.1, -0.1, -0.4, -0.6, -0.8, -0.8, -0.9, -1.0, -0.8,
  -0.5, -0.7, -0.2, 0.5, 1.5, 1.4, 0.5, -0.3, -0.6, -0.8, -0.9, -1.0, -0.9, -0.8, -0.4, -0.5, -0.7, -0.8, -0.9, 0.0,
  1.5, 1.4, 1.7, 1.9, 2.0, 1.0, -0.2, -0.6, -0.7, -0.8, -0.6, -0.1, -0.4, -0.6, -0.7, -0.6, -0.7, -0.8, -0.9, -0.9,
  -0.8, -1.0, -1.0, -1.1, -1.1, -1.2, -1.2, -1.2, -1.2, -1.3, -1.2, -1.3, -1.3, -1.3, -1.3, -1.2, -0.3, 1.0, 1.0, 1.2, 1.3,
];

// ---------- (f) Simulation: gap junctions and synapses (reversal) ----------
const F_AVEL = [
  -1.0, 0.2, 1.5, 2.0, 2.1, 2.0, 2.0, 1.7, -0.5, 2.4, 2.2, 1.9, 1.8, 1.8, 0.6, -0.6, -1.2, -0.6, 0.9, 1.5,
  1.6, 2.2, 1.7, 0.9, -0.5, -1.0, -1.2, -1.5, -1.1, -0.2, 0.5, 1.0, 1.3, 1.5, 1.8, 2.3, 2.0, 1.6, 1.8, -0.3,
  -1.0, -1.4, -1.2, -0.7, 0.0, 0.6, 0.3, -0.8, -1.5, -1.2, 0.6, 1.0, 1.3, 2.1, 0.3, -0.9, 0.2, -1.2, 0.0, 1.8,
  1.5, 0.5, 0.4, 1.0, 2.1, 0.4, 0.3, -1.3, 0.6, -0.9, -1.2, -1.0, -0.4, 0.9, 0.3, -0.8, -0.2, -0.9, 0.2, 0.3,
  0.3, 0.4, 0.2, 0.3, 0.6, 2.2, 0.3, -1.2, -1.4, -0.5, 0.5, 0.6, -1.1, -0.9, 0.3, 0.4, -1.2, -0.7, -0.4, 0.2,
  0.3, -1.1, -1.4, -1.4, -1.3, -1.2, -1.2, -1.1, -1.0, -0.9, -0.9, -0.7, -0.6, -0.6, -0.4, -0.3, -0.3, -0.2, -0.3, -0.3, -0.3,
];
const F_AIBL = [
  -0.9, 0.3, 1.4, 1.9, 2.2, 2.2, 1.9, 1.9, -0.3, 2.3, 2.3, 2.0, 2.0, 1.9, 0.7, -0.5, -1.1, -0.5, 1.0, 1.5,
  1.7, 2.2, 1.8, 1.1, -0.4, -0.9, -1.2, -1.4, -1.1, -0.2, 0.6, 1.0, 1.2, 1.5, 1.7, 2.0, 2.1, 1.8, 1.9, -0.2,
  -0.9, -1.3, -1.1, -0.7, -0.1, 0.5, 0.4, -0.7, -1.4, -1.1, 0.8, 1.1, 1.4, 2.0, 0.2, -0.8, 0.1, -1.1, 0.0, 1.7,
  1.6, 0.6, 0.4, 1.0, 1.9, 0.3, 0.3, -1.2, 0.5, -0.8, -1.1, -0.9, -0.4, 0.9, 0.4, -0.7, -0.2, -0.8, 0.2, 0.2,
  0.2, 0.3, 0.1, 0.3, 0.5, 2.0, 0.3, -1.2, -1.3, -0.4, 0.4, 0.5, -1.0, -0.9, 0.2, 0.2, -1.1, -0.7, -0.4, 0.1,
  0.2, -1.0, -1.3, -1.3, -1.3, -1.2, -1.1, -1.1, -1.0, -0.9, -0.8, -0.7, -0.7, -0.6, -0.4, -0.4, -0.3, -0.3, -0.3, -0.2, -0.3,
];
const F_RIMR = [
  -0.8, 0.2, 1.3, 1.9, 2.2, 2.1, 2.0, 1.8, -0.2, 2.4, 2.5, 2.1, 2.2, 2.0, 0.8, -0.5, -1.1, -0.4, 1.0, 1.6,
  1.8, 2.2, 1.8, 1.2, -0.4, -0.8, -1.2, -1.4, -1.0, -0.2, 0.6, 0.9, 1.2, 1.5, 1.7, 2.1, 2.0, 1.9, 1.9, -0.2,
  -0.9, -1.3, -1.1, -0.7, -0.1, 0.5, 0.5, -0.7, -1.4, -1.1, 0.8, 1.0, 1.4, 2.0, 0.2, -0.8, 0.0, -1.1, 0.0, 1.7,
  1.7, 0.7, 0.3, 1.0, 1.8, 0.2, 0.4, -1.2, 0.5, -0.8, -1.1, -0.9, -0.3, 0.8, 0.4, -0.7, -0.1, -0.8, 0.1, 0.2,
  0.1, 0.2, 0.0, 0.2, 0.4, 1.8, 0.4, -1.2, -1.3, -0.4, 0.4, 0.5, -1.0, -0.9, 0.1, 0.1, -1.1, -0.7, -0.4, 0.1,
  0.1, -1.0, -1.3, -1.3, -1.2, -1.2, -1.1, -1.0, -1.0, -0.9, -0.8, -0.7, -0.7, -0.6, -0.4, -0.4, -0.3, -0.4, -0.3, -0.2, -0.2,
];
const F_AVAR = [
  -1.2, 0.0, 1.2, 1.8, 2.0, 2.1, 2.0, 2.0, -0.2, 2.5, 2.6, 2.2, 2.3, 2.0, 0.8, -0.5, -1.2, -0.5, 0.9, 1.5,
  1.8, 2.3, 2.0, 1.3, -0.4, -0.9, -1.3, -1.5, -1.1, -0.3, 0.5, 0.9, 1.2, 1.5, 1.8, 1.9, 2.0, 1.8, 1.8, -0.3,
  -1.0, -1.4, -1.2, -0.8, -0.2, 0.4, 0.5, -0.8, -1.5, -1.2, 0.7, 1.0, 1.4, 1.9, 0.1, -0.9, 0.0, -1.2, -0.1, 1.6,
  1.8, 0.8, 0.2, 1.0, 1.5, 0.0, 0.3, -1.3, 0.4, -0.8, -1.2, -1.0, -0.4, 0.7, 0.3, -0.8, -0.2, -0.8, 0.0, -0.1,
  0.0, 0.0, -0.2, 0.0, 0.1, 1.2, 0.3, -1.3, -1.4, -0.4, 0.3, 0.4, -1.1, -0.9, -0.1, -0.1, -1.2, -0.7, -0.4, 0.0,
  -0.1, -1.1, -1.4, -1.4, -1.3, -1.2, -1.1, -1.1, -1.0, -0.9, -0.8, -0.8, -0.7, -0.6, -0.5, -0.5, -0.4, -0.5, -0.4, -0.3, -0.2,
];
const F_AVER = [
  -0.7, 0.1, 1.2, 1.6, 1.9, 2.0, 1.9, 2.0, 0.0, 2.5, 2.6, 2.2, 2.4, 2.1, 0.9, -0.4, -1.0, -0.4, 1.0, 1.6,
  1.9, 2.1, 1.9, 1.3, -0.3, -0.8, -1.1, -1.3, -1.0, -0.1, 0.6, 0.9, 1.1, 1.4, 1.7, 1.9, 2.0, 2.0, 1.9, -0.1,
  -0.8, -1.2, -1.0, -0.6, -0.1, 0.4, 0.6, -0.6, -1.3, -1.0, 0.9, 1.1, 1.5, 1.8, 0.1, -0.7, 0.0, -1.0, -0.1, 1.6,
  1.8, 0.9, 0.3, 1.1, 1.2, -0.1, 0.4, -1.1, 0.4, -0.7, -1.0, -0.8, -0.3, 0.8, 0.4, -0.6, -0.1, -0.7, 0.1, -0.1,
  0.0, 0.0, -0.2, -0.1, 0.0, 1.0, 0.4, -1.1, -1.3, -0.3, 0.3, 0.4, -1.0, -0.8, 0.0, -0.1, -1.1, -0.6, -0.3, 0.0,
  -0.2, -1.0, -1.3, -1.3, -1.2, -1.1, -1.1, -1.0, -1.0, -0.8, -0.8, -0.7, -0.7, -0.6, -0.5, -0.5, -0.35, -0.5, -0.35, -0.2, -0.2,
];
const F_AIBR = [
  -0.4, 0.2, 1.0, 1.3, 1.6, 1.8, 1.8, 1.9, 0.3, 1.5, 1.3, 1.2, 1.4, 1.3, 0.8, -0.2, -0.8, -0.2, 0.6, 0.6,
  0.8, 0.5, 0.6, 0.7, -0.2, -0.6, -1.0, -1.2, -0.9, 0.0, 0.4, 0.6, 0.7, 0.9, 1.0, 1.1, 1.0, 1.2, 1.3, 0.3,
  0.2, 0.4, 0.5, 0.3, 0.0, 0.4, 0.5, -0.4, -0.9, -0.6, 0.8, 1.0, 1.3, 1.7, 0.1, -0.6, 0.0, -0.8, -0.1, 1.4,
  1.7, 0.8, 0.3, 1.0, 0.9, -0.1, 0.3, -0.9, 0.3, -0.6, -0.9, -0.7, -0.3, 0.6, 0.4, -0.5, -0.1, -0.6, 0.0, -0.2,
  -0.1, -0.1, -0.2, -0.1, 0.0, 0.7, 0.3, -1.0, -1.1, -0.3, 0.2, 0.3, -0.9, -0.7, -0.1, -0.2, -1.0, -0.6, -0.3, -0.1,
  -0.3, -0.9, -1.2, -1.2, -1.1, -1.1, -1.0, -1.0, -0.9, -0.8, -0.7, -0.7, -0.6, -0.6, -0.5, -0.4, -0.4, -0.4, -0.3, -0.2, -0.2,
];
const F_RIML = [
  -0.6, 0.1, 1.0, 1.4, 1.7, 1.8, 1.9, 2.0, 0.1, 2.3, 2.4, 2.1, 2.2, 2.0, 0.9, -0.3, -0.9, -0.3, 1.0, 1.5,
  1.8, 2.0, 1.8, 1.3, -0.2, -0.7, -1.1, -1.2, -0.9, -0.1, 0.5, 0.8, 1.0, 1.3, 1.5, 1.7, 1.8, 1.9, 1.8, 0.0,
  -0.6, -1.0, -0.8, -0.5, 0.0, 0.4, 0.6, -0.5, -1.2, -0.9, 0.9, 1.0, 1.4, 1.8, 0.1, -0.6, 0.0, -0.9, -0.1, 1.5,
  1.8, 0.9, 0.3, 1.0, 1.0, -0.1, 0.4, -1.0, 0.4, -0.7, -0.9, -0.8, -0.3, 0.7, 0.4, -0.6, -0.1, -0.7, 0.1, -0.1,
  0.0, -0.1, -0.2, -0.1, 0.0, 0.9, 0.4, -1.0, -1.2, -0.3, 0.3, 0.4, -1.0, -0.8, 0.0, -0.1, -1.1, -0.6, -0.3, 0.0,
  -0.2, -1.0, -1.2, -1.2, -1.2, -1.1, -1.0, -1.0, -0.9, -0.8, -0.8, -0.7, -0.7, -0.6, -0.5, -0.5, -0.4, -0.4, -0.3, -0.2, -0.2,
];
const F_AVAL = [
  -0.5, 0.1, 1.1, 1.4, 1.7, 1.9, 1.9, 2.1, 0.1, 2.6, 2.7, 2.3, 2.5, 2.1, 0.9, -0.3, -1.0, -0.3, 1.1, 1.6,
  1.9, 2.1, 1.9, 1.4, -0.3, -0.7, -1.1, -1.3, -1.0, -0.1, 0.6, 0.9, 1.1, 1.4, 1.7, 1.9, 2.0, 2.1, 1.9, -0.1,
  -0.8, -1.2, -1.0, -0.6, -0.1, 0.4, 0.6, -0.6, -1.3, -1.0, 0.9, 1.1, 1.5, 1.9, 0.1, -0.7, 0.0, -1.0, -0.1, 1.6,
  1.9, 0.9, 0.3, 1.1, 1.0, -0.1, 0.4, -1.1, 0.4, -0.7, -1.0, -0.8, -0.3, 0.8, 0.4, -0.6, -0.1, -0.7, 0.1, -0.1,
  0.0, 0.0, -0.2, 0.0, 0.0, 1.0, 0.4, -1.1, -1.3, -0.3, 0.3, 0.4, -1.0, -0.8, 0.0, -0.1, -1.1, -0.6, -0.3, 0.0,
  -0.2, -1.0, -1.3, -1.3, -1.2, -1.1, -1.1, -1.0, -1.0, -0.8, -0.8, -0.7, -0.7, -0.6, -0.45, -0.5, -0.35, -0.5, -0.35, -0.2, -0.2,
];

// ---------- (g) Simulation: only gap junctions (reversal) ----------
const G_AVEL = [
  0.5, 0.4, 0.0, 0.1, 0.4, 1.1, 1.2, 1.4, 1.3, 1.3, 1.1, 0.9, 1.1, 0.8, 1.3, 0.9, 1.0, 0.9, 1.0, 0.5,
  0.2, 0.5, 0.6, 0.7, 1.0, 0.7, 0.4, 0.3, 0.2, 0.1, 0.1, 0.1, 0.2, 0.3, 0.5, 0.8, 0.8, 0.6, 0.7, 0.2,
  0.1, -0.1, -0.2, -0.2, -0.2, 0.1, -0.2, 0.1, -0.3, 0.9, 0.5, 0.2, 0.6, 0.8, 0.5, 0.2, -0.2, -0.2, 0.5, 0.4,
  0.5, 0.5, 0.4, 0.4, 0.5, 0.8, 0.5, 0.2, 0.3, 0.0, 0.2, 0.0, -0.1, -0.3, -0.3, -0.4, -0.2, -0.3, -0.3, -0.2,
  -0.3, -0.2, -0.1, -0.2, -0.1, 0.5, 0.4, 0.0, -0.2, -0.3, -0.2, 0.0, -0.1, -0.1, -0.1, -0.1, -0.1, -0.1, 0.0, 0.0,
  -0.1, -0.4, -0.6, -0.6, -0.7, -0.7, -0.7, -0.8, -0.7, -0.7, -0.7, -0.7, -0.6, -0.5, -0.6, -0.8, -0.9, -0.7, -0.6, -0.7, -0.6,
];
const G_AIBL = [
  0.7, 0.5, 0.1, 0.2, 0.5, 1.2, 1.3, 1.5, 1.3, 1.4, 1.1, 1.0, 1.1, 0.9, 1.4, 1.0, 1.1, 0.9, 1.1, 0.6,
  0.3, 0.6, 0.7, 0.8, 1.1, 0.8, 0.5, 0.4, 0.3, 0.2, 0.2, 0.2, 0.3, 0.5, 0.7, 1.0, 1.0, 0.8, 0.9, 0.4,
  0.2, 0.0, -0.1, -0.1, -0.1, 0.2, -0.1, 0.2, -0.2, 1.0, 0.6, 0.3, 0.7, 1.0, 0.6, 0.3, -0.1, -0.1, 0.7, 0.5,
  0.6, 0.6, 0.5, 0.5, 0.7, 1.0, 0.6, 0.3, 0.4, 0.1, 0.3, 0.1, 0.0, -0.2, -0.2, -0.3, -0.1, -0.2, -0.2, -0.1,
  -0.2, -0.1, 0.0, -0.1, 0.0, 0.8, 0.6, 0.2, 0.0, -0.2, -0.1, 0.1, 0.0, 0.0, 0.0, 0.0, 0.0, 0.0, 0.1, 0.1,
  0.0, -0.3, -0.5, -0.6, -0.6, -0.6, -0.6, -0.7, -0.6, -0.7, -0.6, -0.7, -0.5, -0.5, -0.5, -0.7, -0.8, -0.6, -0.5, -0.6, -0.5,
];
const G_RIMR = [
  0.6, 0.3, -0.1, 0.0, 0.3, 1.4, 1.4, 1.85, 1.4, 1.5, 1.2, 1.0, 1.2, 0.9, 1.6, 1.0, 1.2, 1.0, 1.2, 0.6,
  0.3, 0.6, 0.75, 0.9, 1.5, 0.9, 0.5, 0.4, 0.3, 0.2, 0.3, 0.3, 0.3, 0.7, 1.2, 1.6, 1.4, 1.1, 1.5, 0.6,
  0.15, 0.0, -0.1, -0.1, -0.1, 0.2, -0.1, 0.2, -0.2, 1.4, 0.8, 0.3, 0.9, 1.7, 1.0, 0.3, -0.1, -0.1, 1.1, 0.5,
  0.6, 0.8, 0.6, 0.5, 1.1, 1.6, 0.9, 0.3, 0.4, 0.1, 0.3, 0.1, 0.0, -0.2, -0.2, -0.3, -0.1, -0.2, -0.2, -0.1,
  -0.2, -0.1, 0.0, -0.1, 0.0, 1.85, 1.4, 0.6, 0.3, 0.1, 0.1, 0.5, 0.3, 0.1, 0.0, 0.1, 0.0, 0.1, 0.1, 0.2,
  0.0, -0.4, -0.6, -0.5, -0.6, -0.6, -0.6, -0.7, -0.6, -0.7, -0.6, -0.7, -0.5, -0.4, -0.5, -0.7, -0.8, -0.6, -0.5, -0.6, -0.4,
];
const G_AVAR = [
  0.4, 0.2, -0.2, 0.2, 0.6, 0.9, 1.0, 1.3, 1.2, 1.3, 1.2, 1.0, 1.0, 0.9, 1.2, 1.0, 1.1, 0.8, 1.0, 0.5,
  0.3, 0.4, 0.6, 0.7, 0.8, 0.6, 0.4, 0.3, 0.2, 0.1, 0.2, 0.1, 0.2, 0.3, 0.4, 0.6, 0.6, 0.6, 0.5, 0.2,
  0.1, -0.1, -0.1, -0.2, -0.1, 0.1, -0.2, 0.1, -0.2, 0.7, 0.4, 0.2, 0.5, 0.5, 0.4, 0.2, -0.2, -0.1, 0.4, 0.4,
  0.5, 0.4, 0.3, 0.4, 0.3, 0.5, 0.4, 0.2, 0.3, 0.1, 0.2, 0.0, -0.1, -0.2, -0.2, -0.3, -0.2, -0.2, -0.2, -0.1,
  -0.2, -0.1, 0.0, -0.1, 0.0, 0.2, 0.2, -0.1, -0.3, -0.3, -0.3, -0.2, -0.2, -0.1, -0.1, -0.2, -0.1, -0.1, -0.1, -0.1,
  -0.1, -0.5, -0.7, -0.7, -0.8, -0.7, -0.8, -0.8, -0.7, -0.8, -0.7, -0.8, -0.7, -0.6, -0.7, -0.8, -0.9, -0.7, -0.6, -0.7, -0.6,
];
const G_AVER = [
  0.2, 0.3, 0.0, 0.3, 0.6, 0.8, 1.0, 1.2, 1.1, 1.3, 1.2, 1.1, 1.1, 1.0, 1.1, 1.0, 1.0, 0.9, 1.0, 0.6,
  0.4, 0.4, 0.5, 0.6, 0.7, 0.6, 0.5, 0.4, 0.3, 0.2, 0.2, 0.2, 0.2, 0.3, 0.4, 0.5, 0.5, 0.5, 0.4, 0.2,
  0.1, 0.0, -0.1, -0.1, 0.0, 0.1, -0.1, 0.1, -0.1, 0.6, 0.4, 0.3, 0.4, 0.4, 0.3, 0.2, -0.1, 0.0, 0.3, 0.4,
  0.5, 0.4, 0.3, 0.3, 0.3, 0.4, 0.3, 0.2, 0.2, 0.1, 0.1, 0.0, -0.1, -0.2, -0.1, -0.2, -0.1, -0.2, -0.1, -0.1,
  -0.1, -0.1, 0.0, 0.0, 0.0, 0.1, 0.1, -0.1, -0.2, -0.2, -0.2, -0.2, -0.1, -0.1, -0.1, -0.1, -0.1, -0.1, 0.0, 0.0,
  0.0, -0.2, -0.3, -0.2, -0.2, -0.2, -0.2, -0.3, -0.2, -0.3, -0.2, -0.3, -0.3, -0.3, -0.3, -0.4, -0.5, -0.5, -0.4, -0.5, -0.4,
];
const G_AIBR = [
  0.3, 0.2, 0.1, 0.4, 0.5, 0.8, 0.9, 1.1, 1.1, 1.2, 1.1, 1.0, 1.0, 0.9, 1.0, 0.9, 1.0, 0.9, 0.9, 0.6,
  0.4, 0.4, 0.5, 0.5, 0.6, 0.5, 0.4, 0.3, 0.2, 0.2, 0.2, 0.1, 0.2, 0.3, 0.3, 0.4, 0.5, 0.4, 0.4, 0.2,
  0.0, -0.1, -0.2, -0.2, -0.1, 0.0, -0.2, 0.0, -0.2, 0.5, 0.3, 0.2, 0.4, 0.4, 0.3, 0.1, -0.2, -0.1, 0.2, 0.3,
  0.4, 0.4, 0.3, 0.3, 0.3, 0.4, 0.3, 0.1, 0.2, 0.0, 0.1, 0.0, -0.1, -0.2, -0.2, -0.3, -0.2, -0.2, -0.2, -0.1,
  -0.2, -0.1, -0.1, -0.1, -0.1, 0.0, 0.0, -0.2, -0.3, -0.3, -0.3, -0.2, -0.2, -0.2, -0.2, -0.2, -0.2, -0.1, -0.1, -0.1,
  -0.1, -0.2, -0.1, -0.1, -0.2, -0.1, -0.2, -0.2, -0.1, -0.2, -0.1, -0.2, -0.2, -0.1, -0.2, -0.3, -0.4, -0.3, -0.3, -0.4, -0.3,
];
const G_RIML = [
  0.4, 0.5, 0.3, 0.3, 0.4, 0.9, 1.0, 1.2, 1.2, 1.4, 1.2, 1.0, 1.1, 0.9, 1.1, 0.9, 1.0, 0.9, 1.0, 0.6,
  0.3, 0.5, 0.6, 0.7, 0.8, 0.7, 0.5, 0.4, 0.3, 0.2, 0.2, 0.2, 0.3, 0.4, 0.4, 0.6, 0.7, 0.6, 0.5, 0.3,
  0.1, 0.0, -0.1, -0.1, -0.1, 0.1, -0.1, 0.1, -0.2, 0.7, 0.4, 0.3, 0.5, 0.5, 0.4, 0.2, -0.1, -0.1, 0.3, 0.4,
  0.5, 0.5, 0.4, 0.4, 0.2, 0.5, 0.4, 0.3, 0.3, 0.1, 0.2, 0.1, 0.0, -0.2, -0.2, -0.3, -0.1, -0.2, -0.2, -0.1,
  -0.2, -0.1, 0.0, -0.1, 0.0, 0.0, -0.1, -0.2, -0.3, -0.3, -0.3, -0.2, -0.2, -0.1, -0.1, -0.2, -0.1, -0.2, -0.1, -0.1,
  -0.1, -0.3, -0.4, -0.5, -0.5, -0.5, -0.5, -0.6, -0.5, -0.6, -0.5, -0.6, -0.5, -0.5, -0.5, -0.6, -0.7, -0.6, -0.5, -0.5, -0.5,
];
const G_AVAL = [
  0.3, 0.6, 2.0, 0.0, 0.3, 0.7, 1.1, 1.2, 1.2, 1.5, 1.2, 1.0, 1.2, 0.9, 1.2, 0.9, 1.1, 0.9, 1.1, 0.6,
  0.3, 0.5, 0.7, 0.8, 0.9, 0.8, 0.5, 0.4, 0.3, 0.15, 0.2, 0.15, 0.3, 0.4, 0.4, 0.7, 0.8, 0.7, 0.6, 0.3,
  0.15, 0.0, -0.1, -0.1, -0.1, 0.15, -0.1, 0.15, -0.2, 0.8, 0.5, 0.3, 0.6, 0.5, 0.4, 0.3, -0.1, -0.1, 0.3, 0.5,
  0.6, 0.5, 0.4, 0.5, 0.15, 0.6, 0.5, 0.3, 0.4, 0.15, 0.3, 0.15, 0.0, -0.2, -0.2, -0.35, -0.1, -0.2, -0.2, -0.1,
  -0.2, -0.1, 0.0, -0.1, 0.0, -0.1, -0.2, -0.2, -0.3, -0.35, -0.3, -0.25, -0.2, -0.1, -0.1, -0.2, -0.1, -0.2, -0.1, -0.1,
  -0.1, -0.3, -0.5, -0.6, -0.7, -0.7, -0.6, -0.7, -0.6, -0.7, -0.6, -0.7, -0.6, -0.5, -0.6, -0.7, -0.8, -0.6, -0.5, -0.6, -0.5,
];

// ---------- (h) Simulation: only synapses (reversal) ----------
const H_AVEL = [
  -1.5, -2.0, 1.0, 3.0, 3.5, 3.4, 3.0, 2.8, -2.0, 2.8, 3.2, 3.3, 3.0, 2.5, -2.8, -3.0, -2.9, -2.8, -2.6, 1.5,
  3.3, 3.4, 3.0, 2.8, 2.6, -2.8, -2.9, -2.6, -2.0, 0.0, 2.9, 3.0, 3.1, 3.1, 2.9, 2.8, 2.7, 2.6, -2.2, -2.5,
  -2.6, 1.5, 3.0, 3.1, 3.0, 2.5, -2.4, -2.6, -2.5, 1.0, 2.9, 3.0, 2.8, 2.7, -2.2, -2.3, -2.2, -2.0, 2.0, 2.8,
  3.0, 3.0, 2.9, 2.8, -1.8, -2.0, -2.2, 1.0, 3.0, 3.1, 2.9, 2.0, 2.8, 3.1, 3.0, 2.9, 2.8, 2.8, 2.9, 2.8,
  2.5, 2.4, 2.3, 2.2, 2.3, 2.6, -2.5, -2.7, -2.4, -1.5, 2.0, -2.0, 1.5, 2.5, -2.0, -2.2, -2.1, -2.2, -2.0, -2.2,
  1.0, 2.8, 2.6, 2.0, -2.2, -2.4, -2.2, -2.1, -2.0, -1.5, -1.4, -0.5, -0.2, -1.0, -1.2, 1.0, 2.5, 2.6, 2.7, 2.6, 2.7,
];
const H_AIBL = [
  -2.0, -1.8, 0.5, 2.5, 3.2, 3.3, 3.0, 2.6, 2.3, 2.5, 2.9, 3.3, 3.0, 2.7, -2.5, -2.8, -3.0, -2.9, -2.5, 1.0,
  3.0, 3.6, 3.5, 3.1, 2.8, -2.6, -2.8, -2.4, -1.5, 1.0, 3.0, 3.2, 3.3, 3.2, 3.0, 2.9, 2.8, 2.6, -2.0, -2.3,
  -2.4, 0.0, 2.8, 3.2, 3.1, 2.0, -2.2, -2.5, -2.4, 0.5, 2.8, 3.1, 2.9, 2.5, -2.0, -2.2, -2.1, -2.2, 1.5, 2.9,
  3.0, 3.1, 3.0, 2.7, -1.7, -1.9, -2.0, 0.5, 2.9, 3.2, 3.0, 2.5, 2.7, 3.2, 3.0, 2.8, 2.6, 2.6, 2.7, 2.6,
  2.4, 2.3, 2.2, 2.1, 2.2, 2.5, -2.3, -2.6, -2.3, -1.8, 1.5, -2.2, 1.0, 2.2, -1.8, -2.0, -2.2, -2.3, -2.2, -2.1,
  0.5, 2.6, 2.7, 1.5, -2.0, -2.3, -2.1, -2.0, -1.9, -1.9, -1.7, -1.5, -1.3, -1.6, -1.8, 0.0, 2.0, 2.5, 2.6, 2.5, 2.6,
];
const H_RIMR = [
  -1.8, -2.2, -1.0, 2.0, 2.6, 2.5, 2.4, 2.3, -2.2, 2.4, 2.5, 2.6, 2.6, 2.2, -2.3, -2.4, -2.4, -2.3, -2.3, 0.0,
  2.5, 2.7, 2.6, 2.5, 2.3, -2.6, -2.9, -2.5, -2.2, -2.0, 2.2, 2.4, 2.5, 2.4, 2.3, 2.2, 2.1, 2.2, -1.8, -2.4,
  -2.6, -2.5, 2.4, 2.6, 2.5, 2.2, -2.1, -2.4, -2.5, 0.0, 2.4, 2.5, 2.4, 2.2, -2.1, -2.2, -2.0, -2.1, 0.5, 2.5,
  2.6, 2.6, 2.5, 2.3, -1.9, -2.0, -2.1, 0.0, 2.6, 2.7, 2.5, -1.8, 2.3, 2.8, 2.7, 2.6, 2.5, 2.5, 2.5, 2.5,
  2.2, 2.1, 2.0, 2.0, 2.0, 2.3, -2.2, -2.5, -2.2, -2.0, 1.0, -2.3, 0.5, 2.0, -2.0, -2.2, -2.3, -2.3, -2.2, -2.0,
  0.0, 2.4, 2.6, 1.0, -2.3, -2.4, -2.2, -2.2, -2.1, -2.0, -2.0, -1.9, -1.8, -1.9, -1.9, -1.5, 1.5, 2.3, 2.5, 2.4, 2.5,
];
const H_AVAR = [
  2.0, 1.5, -1.5, 1.5, 2.4, 2.5, 2.3, 2.2, 2.2, 2.4, 3.4, 3.5, 3.2, 2.4, -2.0, -2.4, -2.5, -2.4, -2.3, 1.5,
  3.0, 3.1, 3.0, 2.8, 2.4, -2.4, -2.7, -2.6, 1.5, 2.0, 2.8, 2.9, 3.0, 3.4, 3.3, 3.3, 3.2, 2.8, -1.6, -2.2,
  -2.3, 1.0, 2.8, 3.2, 3.3, 2.8, -2.3, -2.4, -2.3, 1.2, 2.6, 2.9, 3.0, 2.8, -2.2, -2.4, -2.3, -2.2, 2.2, 2.6,
  2.8, 3.0, 2.9, 2.6, 1.5, 1.8, 1.9, 1.8, 2.0, 2.1, 2.4, 2.9, 2.8, 3.3, 3.1, 3.0, 2.9, 3.0, 2.8, 3.0,
  2.9, 3.0, 3.1, 3.1, 3.0, 2.8, -2.6, -2.9, -2.5, -1.5, 2.6, 2.8, 2.5, 2.8, -2.2, -2.3, -2.4, -2.3, -2.2, -2.1,
  1.0, 2.5, 2.7, -1.8, -2.2, 2.0, 2.2, 2.3, 2.2, 2.3, 2.2, 2.0, 1.8, 1.6, 1.5, 1.8, 2.5, 2.8, 3.0, 3.1, 3.0,
];
const H_AVER = [
  2.2, 2.0, -2.5, 0.5, 2.3, 2.4, 2.4, 2.2, 2.0, 2.3, 2.5, 2.3, 2.2, 2.0, -2.3, -2.5, -2.6, -2.5, -2.2, 2.0,
  3.2, 3.4, 3.2, 2.5, 2.2, -2.5, -2.8, -2.7, -2.5, -1.5, 2.3, 2.4, 2.5, 2.4, 2.3, 2.1, 2.0, 2.0, -2.5, -2.7,
  -2.8, -2.6, 2.6, 2.7, 2.6, 2.5, -2.4, -2.7, -2.6, -1.0, 2.5, 2.6, 2.5, 2.2, -2.3, -2.4, -2.3, -2.4, 0.0, 2.5,
  2.7, 2.8, 2.6, 2.3, -2.0, -2.2, -2.3, -1.5, 2.4, 2.7, 2.6, 2.4, 2.4, 2.9, 2.8, 2.7, 2.6, 2.6, 2.6, 2.7,
  2.6, 2.6, 2.7, 2.8, 2.7, 2.5, -2.7, -2.8, -2.6, -2.3, -0.5, -2.0, -1.0, 1.5, -2.3, -2.5, -2.4, -2.5, -2.4, -2.3,
  -0.5, 2.3, 2.5, -1.5, -2.5, -2.6, -2.4, -2.3, -2.2, -2.1, -2.0, -2.1, -2.0, -2.1, -2.2, -1.0, 1.8, 2.4, 2.8, 3.0, 3.1,
];
const H_AIBR = [
  -2.8, -3.0, -2.0, 1.0, 2.2, 2.3, 2.1, 2.0, 2.2, 2.2, 2.3, 2.2, 2.1, 1.9, -1.5, -2.2, -2.4, -2.3, -2.1, 1.0,
  2.4, 2.5, 2.4, 2.2, 2.0, -2.0, -2.4, -2.3, -2.2, -1.0, 2.0, 2.1, 2.2, 2.1, 2.1, 2.0, 1.9, 1.8, -2.0, -2.4,
  -2.5, -2.2, 2.2, 2.3, 2.4, 2.3, -2.0, -2.2, -2.1, -0.5, 2.2, 2.3, 2.2, 2.1, -2.0, -2.2, -2.1, -2.1, 0.5, 2.2,
  2.4, 2.5, 2.4, 2.1, -1.8, -2.0, -2.1, -1.0, 2.2, 2.4, 2.3, 2.2, 2.2, 2.6, 2.5, 2.4, 2.3, 2.3, 2.3, 2.4,
  2.3, 2.3, 2.4, 2.4, 2.3, 2.2, -2.4, -2.6, -2.4, -2.0, -1.0, -2.2, -1.5, 0.5, -2.1, -2.3, -2.3, -2.4, -2.3, -2.2,
  -1.0, 2.0, 2.2, -1.0, -2.3, -2.4, -2.3, -2.2, -2.1, -2.0, -2.1, -2.0, -2.0, -2.1, -2.1, -1.5, 1.5, 2.2, 2.4, 2.6, 2.7,
];
const H_RIML = [
  -2.0, -2.6, -3.5, -1.0, 2.0, 2.2, 2.0, 1.8, 1.9, 2.0, 2.1, 2.0, 1.9, 1.7, -2.0, -2.4, -2.5, -2.4, -2.0, 0.5,
  2.2, 2.3, 2.3, 2.1, 1.9, -2.2, -2.6, -2.5, -2.3, -1.8, 1.8, 2.0, 2.1, 2.0, 1.9, 1.8, 1.8, 1.7, -2.2, -2.6,
  -2.7, -2.5, 2.0, 2.1, 2.2, 2.1, -2.2, -2.5, -2.4, -1.5, 2.0, 2.1, 2.0, 1.9, -2.2, -2.3, -2.2, -2.3, -0.5, 2.0,
  2.2, 2.3, 2.2, 1.9, -2.0, -2.2, -2.3, -1.8, 2.0, 2.2, 2.1, 2.0, 2.0, 2.4, 2.3, 2.2, 2.1, 2.1, 2.1, 2.2,
  2.1, 2.1, 2.2, 2.2, 2.1, 2.0, -2.6, -2.8, -2.6, -2.4, -1.8, -2.3, -2.0, -1.0, -2.2, -2.4, -2.4, -2.5, -2.4, -2.3,
  -1.5, 1.5, 2.0, -1.2, -2.4, -2.5, -2.4, -2.3, -2.2, -2.1, -2.2, -2.1, -2.1, -2.2, -2.2, -1.8, 1.0, 2.0, 2.3, 2.5, 2.6,
];
const H_AVAL = [
  3.2, 3.0, -4.2, -3.0, 2.5, 3.5, 3.6, 3.5, -2.5, 3.0, 3.8, 4.2, 4.5, 3.5, -2.0, -2.5, -2.2, 0.5, 1.5, 2.5,
  3.5, 3.8, 3.6, 3.3, 2.5, -2.2, -2.6, 1.0, 3.0, 4.3, 3.5, 3.0, 2.8, 2.5, 2.0, 2.0, 1.8, 1.5, -2.0, -2.4,
  -2.5, 2.0, 3.5, 3.8, 4.5, 4.5, 4.5, 3.0, -1.5, 2.0, 3.0, 3.4, 2.8, 3.0, -2.0, -2.2, -2.0, 1.0, 3.0, 3.2,
  3.2, 3.3, 3.0, 2.5, -1.5, 4.5, 4.2, 3.0, 2.5, 3.0, 2.8, 2.6, 2.2, 2.8, 2.6, 2.6, 2.4, 2.4, 2.5, 2.6,
  2.4, 2.5, 2.6, 2.8, 3.5, 4.5, 1.5, -2.0, -2.5, -1.5, 1.0, 2.5, 2.0, 2.8, -1.5, 1.0, 2.0, 2.5, 2.3, 2.0,
  1.5, 2.8, 3.0, 2.6, 3.0, 3.6, 3.7, 3.6, 3.8, 3.9, 4.1, 3.9, 4.0, 4.2, 4.1, 1.0, 2.0, 2.8, 3.0, 3.0, 3.0,
];

type Series = { name: string; color: string; data: number[] };
type PanelDef = {
  label: string;
  title: string;
  col: 0 | 1;
  plotTop: number;
  plotBottom: number;
  titleY: number;
  series: Series[];
  legend?: { left: number; top: number; width: number; height: number };
};

const fwd = (arrs: number[][]): Series[] =>
  arrs.map((d, i) => ({ name: FWD_NAMES[i], color: FWD_COLORS[i], data: d }));
const rev = (arrs: number[][]): Series[] =>
  arrs.map((d, i) => ({ name: REV_NAMES[i], color: REV_COLORS[i], data: d }));

const PANELS: PanelDef[] = [
  { label: "(a)", title: "Forward neurons: dataset 2023-01-23-15", col: 0, plotTop: 108, plotBottom: 216, titleY: 73,
    series: fwd([A_AVBR, A_RIBL, A_RIBR, A_AVBL, A_RID]),
    legend: { left: 538, top: 112, width: 90, height: 102 } },
  { label: "(b)", title: "Simulation: gap junctions and synapses", col: 0, plotTop: 348, plotBottom: 456, titleY: 314,
    series: fwd([B_AVBR, B_RIBL, B_RIBR, B_AVBL, B_RID]) },
  { label: "(c)", title: "Simulation: only gap junctions", col: 0, plotTop: 587, plotBottom: 695, titleY: 551,
    series: fwd([C_AVBR, C_RIBL, C_RIBR, C_AVBL, C_RID]) },
  { label: "(d)", title: "Simulation: only synapses", col: 0, plotTop: 827, plotBottom: 935, titleY: 791,
    series: fwd([D_AVBR, D_RIBL, D_RIBR, D_AVBL, D_RID]) },
  { label: "(e)", title: "Reversal neurons: dataset 2023-01-23-15", col: 1, plotTop: 108, plotBottom: 216, titleY: 73,
    series: rev([E_AVEL, E_AIBL, E_RIMR, E_AVAR, E_AVER, E_AIBR, E_RIML, E_AVAL]),
    legend: { left: 1170, top: 112, width: 83, height: 154 } },
  { label: "(f)", title: "Simulation: gap junctions and synapses", col: 1, plotTop: 348, plotBottom: 456, titleY: 314,
    series: rev([F_AVEL, F_AIBL, F_RIMR, F_AVAR, F_AVER, F_AIBR, F_RIML, F_AVAL]) },
  { label: "(g)", title: "Simulation: only gap junctions", col: 1, plotTop: 587, plotBottom: 695, titleY: 551,
    series: rev([G_AVEL, G_AIBL, G_RIMR, G_AVAR, G_AVER, G_AIBR, G_RIML, G_AVAL]) },
  { label: "(h)", title: "Simulation: only synapses", col: 1, plotTop: 827, plotBottom: 935, titleY: 791,
    series: rev([H_AVEL, H_AIBL, H_RIMR, H_AVAR, H_AVER, H_AIBR, H_RIML, H_AVAL]) },
];

const COL = [
  { left: 0, width: 636, chartLeft: 62, chartRight: 541, titleX: 8 },
  { left: 636, width: 620, chartLeft: 61, chartRight: 540, titleX: 648 },
];
// offsets of the chart area inside each canvas (measured from the layout Chart.js produces)
const TOP_OFF = 19;
const BOTTOM_OFF = 55;
const XAXIS_H = 53;

const inwardTicks = {
  id: "inwardTicks",
  afterDraw(chart: any) {
    const { ctx, chartArea, scales } = chart;
    const xs = scales.x, ys = scales.y;
    ctx.save();
    ctx.strokeStyle = "#000";
    ctx.lineWidth = 1;
    ctx.beginPath();
    X_TICKS.forEach((v) => {
      const px = Math.round(xs.getPixelForValue(v)) + 0.5;
      ctx.moveTo(px, chartArea.bottom);
      ctx.lineTo(px, chartArea.bottom - 4);
    });
    Y_TICKS.forEach((v) => {
      const py = Math.round(ys.getPixelForValue(v)) + 0.5;
      ctx.moveTo(chartArea.left, py);
      ctx.lineTo(chartArea.left + 4, py);
    });
    ctx.stroke();
    ctx.restore();
  },
};

function PanelChart({ p }: { p: PanelDef }) {
  const ref = useRef<HTMLCanvasElement>(null);
  const c = COL[p.col];
  const height = p.plotBottom - p.plotTop + TOP_OFF + BOTTOM_OFF;
  useEffect(() => {
    if (!ref.current) return;
    const datasets = p.series.map((s, i) => ({
      label: s.name,
      data: s.data.map((v, j) => ({ x: +(T_START + j * T_STEP).toFixed(2), y: v })),
      borderColor: s.color,
      backgroundColor: s.color,
      borderWidth: 2.6,
      pointRadius: 0,
      cubicInterpolationMode: "monotone",
      order: -i,
      clip: 1,
    }));
    const chart = new Chart(ref.current, {
      type: "line",
      data: { datasets },
      options: {
        responsive: false,
        animation: false,
        events: [],
        layout: { padding: { top: 0, right: c.width - c.chartRight, bottom: 0, left: 0 } },
        plugins: { legend: { display: false }, tooltip: { enabled: false }, title: { display: false } },
        scales: {
          x: {
            type: "linear",
            min: 2,
            max: 8,
            afterFit: (s: any) => { s.height = XAXIS_H; },
            afterBuildTicks: (s: any) => { s.ticks = X_TICKS.map((v) => ({ value: v })); },
            ticks: {
              padding: 6,
              maxRotation: 0,
              autoSkip: false,
              color: "#000",
              font: { family: FONT, size: 15 },
              callback: (v: any) => String(v),
            },
            grid: { color: "rgba(0,0,0,0.1)", lineWidth: 1, drawTicks: false },
            border: { display: true, color: "#000", width: 1.5 },
            title: { display: true, text: "t", color: "#000", font: { family: FONT, size: 20 }, padding: 0 },
          },
          y: {
            min: -4,
            max: 4,
            afterFit: (s: any) => { s.width = c.chartLeft; },
            afterBuildTicks: (s: any) => { s.ticks = Y_TICKS.map((v) => ({ value: v })); },
            ticks: {
              padding: 12,
              color: "#000",
              font: { family: FONT, size: 15 },
              callback: (v: any) => (Number(v) < 0 ? "\u2212" + Math.abs(Number(v)) : String(v)),
            },
            grid: { color: "rgba(0,0,0,0.1)", lineWidth: 1, drawTicks: false },
            border: { display: true, color: "#000", width: 1.5 },
          },
        },
      },
      plugins: [inwardTicks],
    } as any);
    return () => chart.destroy();
  }, []);
  return (
    <canvas
      ref={ref}
      width={c.width}
      height={height}
      style={{ position: "absolute", left: c.left, top: p.plotTop - TOP_OFF, width: c.width, height }}
    />
  );
}

function Legend({ p }: { p: PanelDef }) {
  if (!p.legend) return null;
  const L = p.legend;
  const spacing = 17.45;
  return (
    <div
      style={{
        position: "absolute",
        left: L.left,
        top: L.top,
        width: L.width,
        height: L.height,
        border: "1px solid #222",
        background: "#fff",
        boxSizing: "border-box",
        fontFamily: FONT,
        fontSize: 15,
        color: "#000",
      }}
    >
      {p.series.map((s, i) => {
        const cy = 16 + i * spacing;
        return (
          <React.Fragment key={s.name}>
            <div style={{ position: "absolute", left: 4, top: cy - 1.5, width: 34, height: 3, background: s.color }} />
            <div style={{ position: "absolute", left: 41, top: cy - 9, height: 18, lineHeight: "18px", whiteSpace: "nowrap" }}>
              {s.name}
            </div>
          </React.Fragment>
        );
      })}
    </div>
  );
}

export default function App() {
  return (
    <div style={{ position: "absolute", left: 0, top: 0, width: 1256, height: 985, background: "#fff", overflow: "hidden" }}>
      <div style={{ position: "absolute", left: 0, top: 4, width: 636, textAlign: "center", fontFamily: FONT, fontSize: 29.5, lineHeight: "36px", color: "#000" }}>
        Forward neuron cluster
      </div>
      <div style={{ position: "absolute", left: 636, top: 4, width: 620, textAlign: "center", fontFamily: FONT, fontSize: 29.5, lineHeight: "36px", color: "#000" }}>
        Reversal neuron cluster
      </div>
      {PANELS.map((p) => (
        <div
          key={p.label + "-t"}
          style={{
            position: "absolute",
            left: COL[p.col].titleX,
            top: p.titleY - 15,
            fontFamily: FONT,
            fontSize: 24.4,
            lineHeight: "30px",
            whiteSpace: "pre",
            color: "#000",
          }}
        >
          <span>{p.label}</span>
          <span style={{ marginLeft: 20 }}>{p.title}</span>
        </div>
      ))}
      {PANELS.map((p) => (
        <PanelChart key={p.label} p={p} />
      ))}
      {PANELS.map((p) => (
        <Legend key={p.label + "-l"} p={p} />
      ))}
    </div>
  );
}
